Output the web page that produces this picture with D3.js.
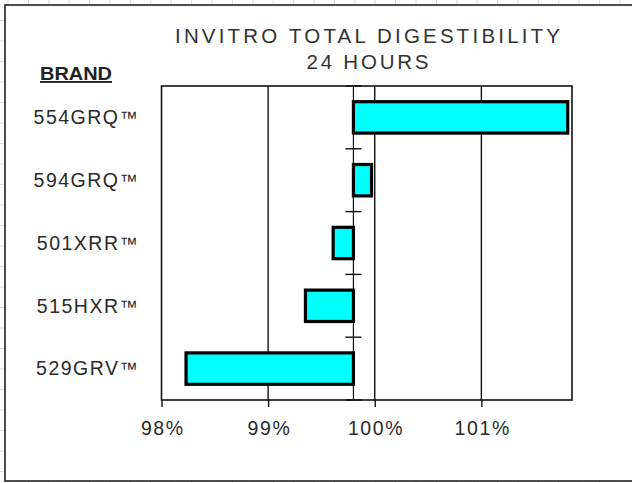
<!DOCTYPE html>
<html>
<head>
<meta charset="utf-8">
<script src="https://cdn.jsdelivr.net/npm/d3@7"></script>
<style>
  html, body { margin: 0; padding: 0; background: #fff; }
  svg { display: block; }
</style>
</head>
<body>
<script>
// ---- data ----
const categories = ["554GRQ™", "594GRQ™", "501XRR™", "515HXR™", "529GRV™"];
const values = [101.81, 99.97, 99.61, 99.35, 98.23];
const baseline = 99.8;
const tickValues = [98, 99, 100, 101];
const tickLabels = ["98%", "99%", "100%", "101%"];
const titleLines = ["INVITRO TOTAL DIGESTIBILITY", "24 HOURS"];
const legendTitle = "BRAND";

const W = 632, H = 483;
const FONT = "'Liberation Sans', Arial, sans-serif";
const svg = d3.select("body").append("svg").attr("width", W).attr("height", H);

// faint spreadsheet grid behind
const gridG = svg.append("g").attr("stroke", "#dcdcdc").attr("stroke-width", 1);
for (let gx = 8; gx < W; gx += 20.4) gridG.append("line").attr("x1", gx).attr("x2", gx).attr("y1", 0).attr("y2", H);
for (let gy = 20.5; gy < H; gy += 20.5) gridG.append("line").attr("x1", 0).attr("x2", W).attr("y1", gy).attr("y2", gy);

// outer chart border
svg.append("rect").attr("x", 5).attr("y", 5).attr("width", 640).attr("height", 476)
  .attr("fill", "#fff").attr("stroke", "#222").attr("stroke-width", 1.6);

const plot = { left: 161.5, right: 572, top: 86, bottom: 400 };
const x = d3.scaleLinear().domain([98, 101.85]).range([plot.left, plot.right]);
const y = d3.scaleBand().domain(categories).range([plot.top, plot.bottom]).paddingInner(0.5).paddingOuter(0.25);

// vertical gridlines
svg.append("g").selectAll("line").data([99, 100, 101]).join("line")
  .attr("x1", d => x(d)).attr("x2", d => x(d))
  .attr("y1", plot.top).attr("y2", plot.bottom)
  .attr("stroke", "#111").attr("stroke-width", 1.4);

// baseline line
svg.append("line").attr("x1", x(baseline)).attr("x2", x(baseline))
  .attr("y1", plot.top).attr("y2", plot.bottom)
  .attr("stroke", "#111").attr("stroke-width", 1.2);

// bars
svg.append("g").selectAll("rect").data(categories).join("rect")
  .attr("x", (d, i) => Math.min(x(values[i]), x(baseline)))
  .attr("width", (d, i) => Math.abs(x(values[i]) - x(baseline)))
  .attr("y", d => y(d))
  .attr("height", y.bandwidth())
  .attr("fill", "#00ffff").attr("stroke", "#000").attr("stroke-width", 3.2);

// category axis ticks on the baseline (band boundaries)
const boundaries = d3.range(categories.length + 1).map(i => plot.top + i * y.step());
svg.append("g").selectAll("line").data(boundaries).join("line")
  .attr("x1", x(baseline) - 8).attr("x2", x(baseline) + 8)
  .attr("y1", d => d).attr("y2", d => d)
  .attr("stroke", "#111").attr("stroke-width", 1.4);

// plot frame
svg.append("rect").attr("x", plot.left).attr("y", plot.top)
  .attr("width", plot.right - plot.left).attr("height", plot.bottom - plot.top)
  .attr("fill", "none").attr("stroke", "#111").attr("stroke-width", 1.6);

// bottom axis
const xAxis = d3.axisBottom(x).tickValues(tickValues)
  .tickFormat((d, i) => tickLabels[i]).tickSize(7).tickPadding(0);
const ax = svg.append("g").attr("transform", `translate(0,${plot.bottom})`).call(xAxis);
ax.select(".domain").remove();
ax.selectAll(".tick line").attr("stroke", "#111").attr("stroke-width", 1.4);
ax.selectAll(".tick text")
  .attr("font-family", FONT)
  .attr("font-size", 19.5).attr("fill", "#2a2a2a")
  .attr("letter-spacing", 1.6)
  .attr("y", 35).attr("dy", null)
  .attr("dx", 0.8);

// category labels (trademark sign set slightly smaller)
const labels = svg.append("g").selectAll("text").data(categories).join("text")
  .attr("x", 137.5)
  .attr("y", d => y(d) + y.bandwidth() / 2 + 6.8)
  .attr("text-anchor", "end")
  .attr("font-family", FONT)
  .attr("font-size", 19.5).attr("fill", "#2a2a2a")
  .attr("letter-spacing", 1.5);
labels.append("tspan").text(d => d.replace("™", ""));
labels.append("tspan").attr("font-size", 18).attr("letter-spacing", 0).text("™");

// BRAND header
svg.append("text").attr("x", 40).attr("y", 80)
  .attr("font-family", FONT)
  .attr("font-size", 19).attr("font-weight", "bold").attr("fill", "#222")
  .attr("textLength", 72).attr("lengthAdjust", "spacingAndGlyphs")
  .attr("text-decoration", "underline")
  .text(legendTitle);

// title
const titleWidths = [385, 122];
const titleY = [42.7, 69];
titleLines.forEach((t, i) => {
  svg.append("text").attr("x", 367.5 - titleWidths[i] / 2).attr("y", titleY[i])
    .attr("font-family", FONT)
    .attr("font-size", 20.5).attr("fill", "#333")
    .attr("textLength", titleWidths[i]).attr("lengthAdjust", "spacing")
    .text(t);
});
</script>
</body>
</html>
